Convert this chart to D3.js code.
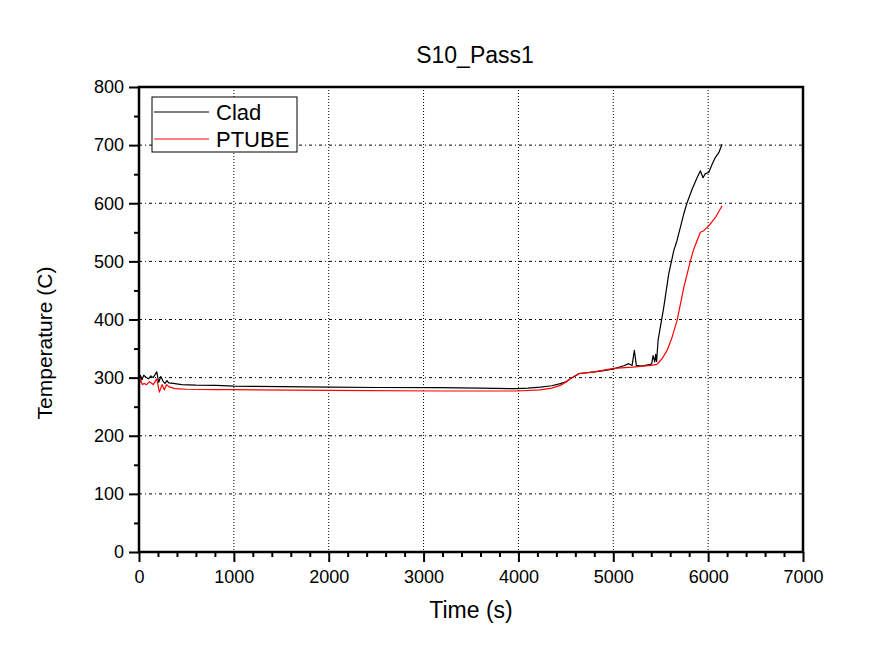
<!DOCTYPE html>
<html>
<head>
<meta charset="utf-8">
<script src="https://cdn.jsdelivr.net/npm/d3@7"></script>
<style>
  html, body { margin: 0; padding: 0; background: #fff; }
  svg text { font-family: "Liberation Sans", Arial, sans-serif; }
</style>
</head>
<body>
<svg id="chart" width="880" height="653"></svg>
<script>
// ---- data ----
const chartTitle = "S10_Pass1";
const xLabel = "Time (s)";
const yLabel = "Temperature (C)";
const seriesNames = ["Clad", "PTUBE"];
const seriesColors = ["#000000", "#ff0000"];
const xTicks = [0, 1000, 2000, 3000, 4000, 5000, 6000, 7000];
const yTicks = [0, 100, 200, 300, 400, 500, 600, 700, 800];

const cladTime = [0, 15, 30, 50, 70, 100, 125, 150, 187, 208, 230, 253, 274, 295, 313, 360, 450, 600, 812, 1000, 1500, 2015, 2500, 3175, 3600, 3985, 4100, 4230, 4350, 4441, 4500, 4547, 4600, 4635, 4700, 4800, 4900, 5004, 5110, 5163, 5198, 5222, 5243, 5300, 5391, 5405, 5419, 5437, 5447, 5457, 5472, 5532, 5584, 5637, 5672, 5707, 5742, 5778, 5831, 5883, 5918, 5946, 5970, 6006, 6042, 6077, 6112, 6147];
const cladTemp = [292, 304, 296, 304, 301, 298, 303, 300, 310, 292, 302, 294, 290, 295, 291, 290, 288, 287, 286.7, 285.5, 284.5, 283.8, 283, 282.7, 282, 281, 282, 283.8, 286, 289.6, 293, 298, 303, 306.8, 308, 310, 312, 315, 320.5, 324, 321, 346.8, 321, 320, 322.7, 324, 338, 327, 340, 328, 364, 421, 478, 518, 536, 558.5, 581, 601, 624, 644, 656, 644, 651, 653, 667, 679, 687, 701.6];

const ptubeTime = [0, 15, 35, 55, 80, 110, 150, 187, 215, 243, 267, 291, 316, 380, 500, 812, 1000, 2015, 3175, 3985, 4230, 4350, 4441, 4500, 4547, 4635, 4800, 5004, 5200, 5400, 5461, 5514, 5567, 5620, 5672, 5743, 5813, 5848, 5883, 5918, 5953, 6006, 6077, 6147];
const ptubeTemp = [286.7, 296, 288, 290, 288, 293, 288, 298, 275, 288, 279, 288, 284, 281, 280, 279.3, 279.3, 278, 277, 277, 279, 282, 286.7, 292, 298, 306.8, 310, 316, 318, 321, 322.7, 332.5, 346.8, 369.6, 398, 455, 501, 521, 535.6, 550, 552.8, 561, 575.6, 595.7];

const series = [
  { name: seriesNames[0], color: seriesColors[0], pts: cladTime.map((t, i) => [t, cladTemp[i]]) },
  { name: seriesNames[1], color: seriesColors[1], pts: ptubeTime.map((t, i) => [t, ptubeTemp[i]]) }
];

// ---- layout ----
const L = 139, R = 803, T = 87, B = 552;
const svg = d3.select("#chart");
const x = d3.scaleLinear().domain([0, 7000]).range([L, R]);
const y = d3.scaleLinear().domain([0, 800]).range([B, T]);

// grid
const grid = svg.append("g");
grid.selectAll("line.vg").data(xTicks.filter(d => d > 0 && d < 7000)).enter().append("line")
  .attr("x1", d => x(d)).attr("x2", d => x(d)).attr("y1", T).attr("y2", B)
  .attr("stroke", "#000").attr("stroke-width", 1).attr("stroke-dasharray", "1,2");
grid.selectAll("line.hg").data(yTicks.filter(d => d > 0 && d < 800)).enter().append("line")
  .attr("x1", L).attr("x2", R).attr("y1", d => y(d)).attr("y2", d => y(d))
  .attr("stroke", "#000").attr("stroke-width", 1).attr("stroke-dasharray", "3,3,1,3");

// lines
const line = d3.line().x(d => x(d[0])).y(d => y(d[1]));
series.forEach(s => {
  svg.append("path").attr("d", line(s.pts)).attr("fill", "none")
    .attr("stroke", s.color).attr("stroke-width", 1.2).attr("stroke-linejoin", "round");
});

// frame
svg.append("rect").attr("x", L).attr("y", T).attr("width", R - L).attr("height", B - T)
  .attr("fill", "none").attr("stroke", "#000").attr("stroke-width", 2.5);

// axes
const xMinor = d3.range(0, 7001, 200).filter(d => d % 1000 !== 0);
const yMinor = d3.range(0, 801, 50).filter(d => d % 100 !== 0);
const xAxis = svg.append("g").attr("transform", `translate(0,${B})`)
  .call(d3.axisBottom(x).tickValues(xTicks).tickSize(10).tickPadding(8).tickFormat(d3.format("d")));
const xAxisMinor = svg.append("g").attr("transform", `translate(0,${B})`)
  .call(d3.axisBottom(x).tickValues(xMinor).tickSize(5).tickFormat(""));
const yAxis = svg.append("g").attr("transform", `translate(${L},0)`)
  .call(d3.axisLeft(y).tickValues(yTicks).tickSize(10).tickPadding(5).tickFormat(d3.format("d")));
const yAxisMinor = svg.append("g").attr("transform", `translate(${L},0)`)
  .call(d3.axisLeft(y).tickValues(yMinor).tickSize(5).tickFormat(""));
[xAxis, xAxisMinor, yAxis, yAxisMinor].forEach(g => {
  g.select(".domain").remove();
  g.selectAll(".tick line").attr("stroke", "#000").attr("stroke-width", 2);
  g.selectAll(".tick text").attr("font-size", 18).attr("fill", "#000")
    .attr("font-family", "'Liberation Sans', Arial, sans-serif");
});

// titles
svg.append("text").attr("x", (L + R) / 2 + 4).attr("y", 63).attr("text-anchor", "middle")
  .attr("font-size", 23).text(chartTitle);
svg.append("text").attr("x", (L + R) / 2).attr("y", 618).attr("text-anchor", "middle")
  .attr("font-size", 23).text(xLabel);
svg.append("text").attr("transform", `translate(52,${343}) rotate(-90)`).attr("text-anchor", "middle")
  .attr("font-size", 21).text(yLabel);

// legend
const lg = svg.append("g");
lg.append("rect").attr("x", 152).attr("y", 97).attr("width", 145).attr("height", 55)
  .attr("fill", "#fff").attr("stroke", "#000").attr("stroke-width", 1);
series.forEach((s, i) => {
  const ly = 112 + i * 27;
  lg.append("line").attr("x1", 154).attr("x2", 209).attr("y1", ly).attr("y2", ly)
    .attr("stroke", s.color).attr("stroke-width", 1.2);
  lg.append("text").attr("x", 216).attr("y", ly + 7.5).attr("font-size", 22).text(s.name);
});
</script>
</body>
</html>
